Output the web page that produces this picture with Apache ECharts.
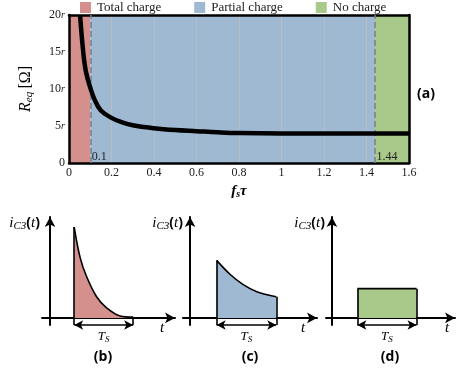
<!DOCTYPE html>
<html>
<head>
<meta charset="utf-8">
<script src="https://cdn.jsdelivr.net/npm/echarts/dist/echarts.min.js"></script>
<style>
  html, body { margin: 0; padding: 0; background: #fff; }
  #chart { width: 457px; height: 372px; }
</style>
</head>
<body>
<div id="chart"></div>
<script>
// top plot (a): R_eq against f_s*tau
const fsTau = [0.052, 0.067, 0.08, 0.1, 0.12, 0.15, 0.2, 0.25, 0.3, 0.4, 0.5, 0.6, 0.7, 0.8, 1.0, 1.2, 1.4, 1.6];
const reqValues = [20, 15, 12.3, 10.2, 8.6, 7.1, 6.1, 5.5, 5.1, 4.7, 4.45, 4.3, 4.15, 4.05, 4.0, 4.0, 4.0, 4.0];
const regionNames = ['Total charge', 'Partial charge', 'No charge'];
const regionBounds = [0, 0.1, 1.44, 1.6];
const regionColors = ['#d3908d', '#a0b9d2', '#a9c98b'];
const boundaryLabels = ['0.1', '1.44'];

// bottom sketches (b) (c) (d): current pulse over one period T_S (T_S = 1)
const pulseB_t = [0.41, 0.51, 0.62, 0.79, 0.96, 1.19, 1.41];
const pulseB_i = [0.90, 0.60, 0.41, 0.21, 0.10, 0.02, 0.01];
const pulseC_t = [0.45, 0.68, 0.90, 1.13, 1.46];
const pulseC_i = [0.57, 0.43, 0.33, 0.26, 0.21];
const pulseD_t = [0.43, 1.43];
const pulseD_i = [0.29, 0.29];
const arrowLevel = -0.07;

const chart = echarts.init(document.getElementById('chart'));
const serif = 'Liberation Serif';
const pair = (xs, ys) => xs.map((x, k) => [x, ys[k]]);

// 子图配置
const panels = [
  { key: 'b', t: pulseB_t, i: pulseB_i, smooth: 0.35, color: regionColors[0],
    left: 42, width: 133, xmin: -0.136, xmax: 2.12, nameX: 40, tX: 162, capX: 103 },
  { key: 'c', t: pulseC_t, i: pulseC_i, smooth: 0.35, color: regionColors[1],
    left: 183, width: 134, xmin: -0.12, xmax: 2.15, nameX: 183, tX: 303, capX: 250 },
  { key: 'd', t: pulseD_t, i: pulseD_i, smooth: false, color: regionColors[2],
    left: 326, width: 129, xmin: -0.1, xmax: 2.08, nameX: 325, tX: 447, capX: 390 }
];

const frameLine = { show: true, onZero: false, lineStyle: { color: '#000', width: 2.5 } };
const grids = [{ left: 69, top: 15, width: 340, height: 148 }];
const xAxes = [{
  type: 'value', min: 0, max: 1.6, interval: 0.2, gridIndex: 0,
  name: '{f|f}{s|s}{f|τ}', nameLocation: 'middle', nameGap: 20,
  nameTextStyle: { rich: {
    f: { fontFamily: serif, fontSize: 15, fontStyle: 'italic', fontWeight: 'bold', color: '#000' },
    s: { fontFamily: serif, fontSize: 10, fontStyle: 'italic', fontWeight: 'bold', color: '#000', verticalAlign: 'bottom', padding: [6, 0, 0, 0] }
  } },
  axisLine: frameLine, axisTick: { show: false },
  axisLabel: { fontFamily: serif, fontSize: 12, color: '#222', margin: 4 },
  splitLine: { show: true, lineStyle: { color: '#b9bec6', width: 1 } }
}, {
  type: 'value', min: 0, max: 1.6, gridIndex: 0, position: 'top',
  axisLine: frameLine, axisTick: { show: false }, axisLabel: { show: false }, splitLine: { show: false }
}];
const yAxes = [{
  type: 'value', min: 0, max: 20, interval: 5, gridIndex: 0,
  name: '{r|R}{s|eq} {n|[Ω]}', nameLocation: 'middle', nameGap: 34, nameRotate: 90,
  nameTextStyle: { rich: {
    r: { fontFamily: serif, fontSize: 16, fontStyle: 'italic', color: '#000' },
    s: { fontFamily: serif, fontSize: 11, fontStyle: 'italic', color: '#000', verticalAlign: 'bottom', padding: [8, 0, 0, 0] },
    n: { fontFamily: serif, fontSize: 16, color: '#000' }
  } },
  axisLine: frameLine, axisTick: { show: false },
  splitLine: { show: false },
  axisLabel: {
    margin: 4,
    formatter: v => (v === 0 ? '{n|0}' : '{n|' + v + '}{r|r}'),
    rich: {
      n: { fontFamily: serif, fontSize: 12, color: '#222' },
      r: { fontFamily: serif, fontSize: 10, fontStyle: 'italic', color: '#222' }
    }
  }
}, {
  type: 'value', min: 0, max: 20, gridIndex: 0, position: 'right',
  axisLine: frameLine, axisTick: { show: false }, axisLabel: { show: false }, splitLine: { show: false }
}];

const series = [];

// 充电区域
regionNames.forEach((name, k) => {
  series.push({
    name, type: 'line', xAxisIndex: 0, yAxisIndex: 0, data: [], z: -5,
    itemStyle: { color: regionColors[k] },
    markArea: {
      silent: true, z: -5,
      itemStyle: { color: regionColors[k], opacity: 1 },
      data: [[{ xAxis: regionBounds[k] }, { xAxis: regionBounds[k + 1] }]]
    }
  });
});

// 边界虚线
series.push({
  type: 'line', xAxisIndex: 0, yAxisIndex: 0, data: [], z: 1,
  markLine: {
    silent: true, symbol: 'none',
    lineStyle: { color: '#7a7f86', type: 'dashed', width: 1.5 },
    label: { show: false },
    data: [{ xAxis: regionBounds[1] }, { xAxis: regionBounds[2] }]
  },
  markPoint: {
    silent: true, symbol: 'rect', symbolSize: 1,
    itemStyle: { color: 'transparent' },
    label: { show: true, position: 'right', distance: 1, offset: [0, -6],
      fontFamily: serif, fontSize: 12, color: '#222', formatter: p => p.name },
    data: [
      { name: boundaryLabels[0], coord: [regionBounds[1], 0] },
      { name: boundaryLabels[1], coord: [regionBounds[2], 0] }
    ]
  }
});

// R_eq 曲线
series.push({
  type: 'line', xAxisIndex: 0, yAxisIndex: 0, z: 5,
  data: pair(fsTau, reqValues), smooth: 0.4, symbol: 'none', clip: true,
  lineStyle: { color: '#000', width: 4.5 }
});

// 下方三个脉冲示意图
const tsLabel = {
  show: true, position: 'insideMiddleBottom', distance: 5,
  formatter: '{t|T}{s|S}',
  rich: {
    t: { fontFamily: serif, fontSize: 13, fontStyle: 'italic', color: '#000' },
    s: { fontFamily: serif, fontSize: 9, fontStyle: 'italic', color: '#000', verticalAlign: 'bottom', padding: [5, 0, 0, 0] }
  }
};
panels.forEach((p, k) => {
  const g = k + 1;
  grids.push({ left: p.left, width: p.width, top: 217, height: 108 });
  const axisLine = { show: true, onZero: true, symbol: ['none', 'arrow'], symbolSize: [8, 10],
    lineStyle: { color: '#000', width: 2 } };
  xAxes.push({ type: 'value', gridIndex: g, min: p.xmin, max: p.xmax, axisLine,
    axisTick: { show: false }, axisLabel: { show: false }, splitLine: { show: false } });
  yAxes.push({ type: 'value', gridIndex: g, min: arrowLevel, max: 1.0, axisLine,
    axisTick: { show: false }, axisLabel: { show: false }, splitLine: { show: false } });

  const t0 = p.t[0], t1 = p.t[p.t.length - 1];
  const i0 = p.i[0], i1 = p.i[p.i.length - 1];
  series.push({
    type: 'line', xAxisIndex: g + 1, yAxisIndex: g + 1, z: 4, clip: false,
    data: pair(p.t, p.i), smooth: p.smooth, symbol: 'none',
    lineStyle: { color: '#000', width: 1.6 },
    areaStyle: { color: p.color, opacity: 1 },
    markLine: {
      silent: true, symbol: 'none', animation: false, precision: 4,
      lineStyle: { color: '#000', width: 1.6, type: 'solid' },
      label: { show: false },
      data: [
        [{ coord: [t0, arrowLevel] }, { coord: [t0, i0] }],
        [{ coord: [t1, arrowLevel] }, { coord: [t1, i1] }],
        [{ coord: [t0, arrowLevel], symbol: 'arrow', symbolSize: [7, 9], label: tsLabel },
         { coord: [t1, arrowLevel], symbol: 'arrow', symbolSize: [7, 9], label: tsLabel }]
      ]
    }
  });
});

// 文字标注
const graphic = [{
  type: 'text', left: 417, top: 87,
  style: { text: '(a)', font: 'bold 14px "Open Sans"', fill: '#000' }
}];
panels.forEach(p => {
  graphic.push({
    type: 'text', x: p.nameX, y: 223,
    style: {
      text: '{i|i}{s|C3}{p|(}{t|t}{p|)}', align: 'right', verticalAlign: 'middle',
      rich: {
        i: { fontFamily: serif, fontSize: 15, fontStyle: 'italic', fill: '#000' },
        s: { fontFamily: serif, fontSize: 11, fontStyle: 'italic', fill: '#000', verticalAlign: 'bottom', padding: [6, 0, 0, 0] },
        p: { fontFamily: '"Open Sans"', fontSize: 14, fontWeight: 'bold', fill: '#000' },
        t: { fontFamily: serif, fontSize: 15, fontStyle: 'italic', fill: '#000' }
      }
    }
  });
  graphic.push({
    type: 'text', x: p.tX, y: 328,
    style: { text: 't', font: 'italic 15px "Liberation Serif"', fill: '#000', align: 'center', verticalAlign: 'middle' }
  });
  graphic.push({
    type: 'text', x: p.capX, y: 357,
    style: { text: '(' + p.key + ')', font: 'bold 14px "Open Sans"', fill: '#000', align: 'center', verticalAlign: 'middle' }
  });
});

chart.setOption({
  animation: false,
  legend: {
    data: regionNames, left: 75, top: -4, itemWidth: 11, itemHeight: 11, itemGap: 33, icon: 'rect',
    textStyle: { fontFamily: serif, fontSize: 13, color: '#222', padding: [0, 0, 0, 1] }
  },
  grid: grids,
  xAxis: xAxes,
  yAxis: yAxes,
  series,
  graphic
});
</script>
</body>
</html>
